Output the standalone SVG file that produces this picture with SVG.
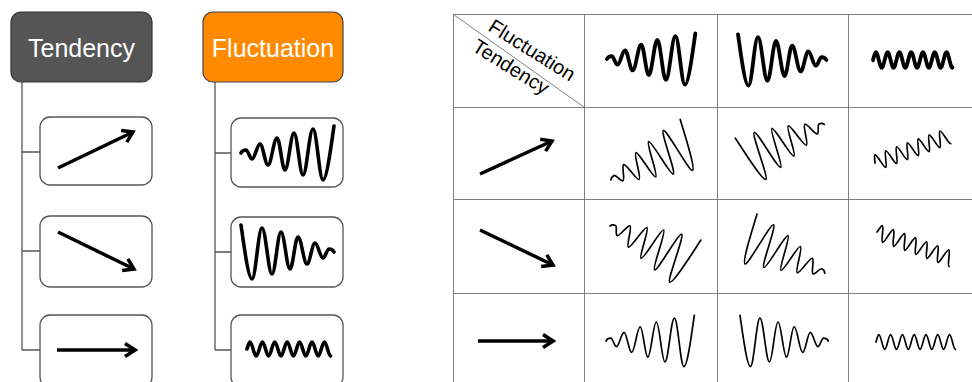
<svg xmlns="http://www.w3.org/2000/svg" width="972" height="382" viewBox="0 0 972 382">
<style>
.hdr-t{fill:#555555;stroke:#333333;stroke-width:1.2}
.hdr-f{fill:#ff8a00;stroke:#444444;stroke-width:1.2}
.child{fill:#ffffff;stroke:#555555;stroke-width:1.3}
.conn{stroke:#555555;stroke-width:1.3;fill:none}
.hlabel{font-family:"Liberation Sans",Arial,sans-serif;font-size:25px;fill:#ffffff;text-anchor:middle}
.arrow{stroke:#000000;stroke-width:3.5;fill:none;marker-end:url(#ah)}
.thick{fill:none;stroke:#000000;stroke-width:3.6;stroke-linecap:round;stroke-linejoin:round}
.thin{fill:none;stroke:#000000;stroke-width:1.8;stroke-linecap:round;stroke-linejoin:round}
.grid{stroke:#808080;stroke-width:1;fill:none}
.tlabel{font-family:"Liberation Sans",Arial,sans-serif;font-size:20px;fill:#000000}
</style>
<defs>
<marker id="ah" viewBox="-14 -9 17 18" refX="0" refY="0" markerWidth="17" markerHeight="18" markerUnits="userSpaceOnUse" orient="auto">
<path d="M-10,-6.5 L0,0 L-10,6.5" fill="none" stroke="#000000" stroke-width="3.5"/>
</marker>
<path id="grow" d="M0,0 C1,-2 3.2,-3 5,-3 C7.18,-3 8.82,6 11,6 C13.91,6 16.09,-9 19,-9 C21.91,-9 24.09,12 27,12 C30.28,12 32.72,-15 36,-15 C38.91,-15 41.09,17 44,17 C47.28,17 49.72,-20 53,-20 C56.28,-20 58.72,22 62,22 C65.64,22 68.36,-24 72,-24 C75.64,-24 78.36,27 82,27 C86,27 91,-14 93,-27"/>
<g id="decay"><use href="#grow" transform="translate(93,0) scale(-1,1)"/></g>
<path id="const" d="M0,0 C1.2,-3.5 1.9,-7 3,-7 c2.26,0 3.94,14 6.2,14 s3.94,-14 6.2,-14 s3.94,14 6.2,14 s3.94,-14 6.2,-14 s3.94,14 6.2,14 s3.94,-14 6.2,-14 s3.94,14 6.2,14 s3.94,-14 6.2,-14 s3.94,14 6.2,14 s3.94,-14 6.2,-14 s3.94,14 6.2,14 s3.94,-14 6.2,-14 s3.94,14 6.2,14"/>
</defs>

<!-- connectors of the left trees -->
<g id="connectors">
<path class="conn" d="M22,82 V350 M22,152 H40 M22,251 H40 M22,350 H40"/>
<path class="conn" d="M215,82 V350 M215,153 H231 M215,252 H231 M215,350 H231"/>
</g>

<g id="tendency-header">
<rect class="hdr-t" x="11" y="12" width="141" height="70" rx="10"/>
<text class="hlabel" x="81.5" y="57">Tendency</text>
</g>
<g id="tendency-up">
<rect class="child" x="40" y="117" width="112" height="68" rx="10"/>
<path class="arrow" d="M58,168 L133,132"/>
</g>
<g id="tendency-down">
<rect class="child" x="40" y="216" width="112" height="71" rx="10"/>
<path class="arrow" d="M58,232 L134,269"/>
</g>
<g id="tendency-flat">
<rect class="child" x="40" y="315" width="112" height="72" rx="10"/>
<path class="arrow" d="M57,350 L135,350"/>
</g>

<g id="fluctuation-header">
<rect class="hdr-f" x="203" y="12" width="140" height="70" rx="10"/>
<text class="hlabel" x="273" y="57">Fluctuation</text>
</g>
<g id="fluctuation-grow">
<rect class="child" x="231" y="118" width="112" height="69" rx="10"/>
<use class="thick" href="#grow" transform="translate(241,153)"/>
</g>
<g id="fluctuation-decay">
<rect class="child" x="231" y="217" width="112" height="70" rx="10"/>
<use class="thick" href="#decay" transform="translate(241,252)"/>
</g>
<g id="fluctuation-const">
<rect class="child" x="231" y="315" width="112" height="72" rx="10"/>
<use class="thick" href="#const" transform="translate(247,349)"/>
</g>

<!-- table -->
<g id="table-grid">
<path class="grid" d="M453,14.5 H972 M453,107.5 H972 M453,199.5 H972 M453,293.5 H972 M453.5,14 V382 M584.5,14 V382 M717.5,14 V382 M848.5,14 V382"/>
<path class="grid" d="M453.5,14.5 L584.5,107.5"/>
</g>
<g id="table-corner">
<text class="tlabel" transform="translate(487,30) rotate(32)">Fluctuation</text>
<text class="tlabel" transform="translate(471,50) rotate(32)">Tendency</text>
</g>
<g id="table-header-row">
<use class="thick" href="#grow" transform="translate(607,59) scale(0.95)" style="stroke-width:4"/>
<use class="thick" href="#decay" transform="translate(738,60) scale(0.95)" style="stroke-width:4"/>
<use class="thick" href="#const" transform="translate(873,60) scale(0.95,1.08)" style="stroke-width:4"/>
</g>
<g id="table-row-up">
<path class="arrow" d="M480,174 L552,141"/>
<use class="thin" href="#grow" transform="translate(611,180) rotate(-25) scale(0.95)"/>
<use class="thin" href="#decay" transform="translate(746,161) rotate(-25) scale(0.93)"/>
<use class="thin" href="#const" transform="translate(875,163) rotate(-20) scale(0.93,1.1)"/>
</g>
<g id="table-row-down">
<path class="arrow" d="M480,230 L553,265"/>
<use class="thin" href="#grow" transform="translate(610,226) rotate(25) scale(0.95)"/>
<use class="thin" href="#decay" transform="translate(746.4,236.8) rotate(25) scale(0.93)"/>
<use class="thin" href="#const" transform="translate(877,232) rotate(20) scale(0.95,1.1)"/>
</g>
<g id="table-row-flat">
<path class="arrow" d="M478,341 L553,341"/>
<use class="thin" href="#grow" transform="translate(606,341) scale(0.95)"/>
<use class="thin" href="#decay" transform="translate(740,341) scale(0.95)"/>
<use class="thin" href="#const" transform="translate(876,342) scale(0.95,1.05)"/>
</g>
</svg>
